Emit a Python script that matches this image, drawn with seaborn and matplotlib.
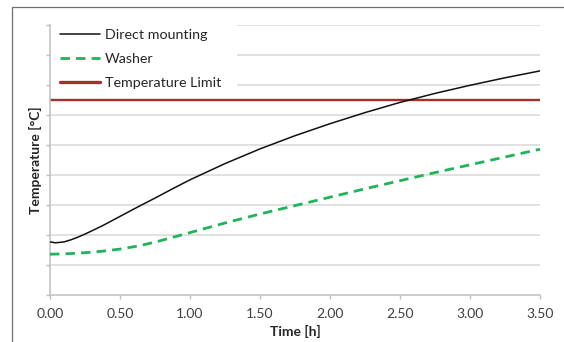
import matplotlib
matplotlib.use("Agg")
import matplotlib.pyplot as plt
import seaborn as sns
import pandas as pd
from matplotlib.patches import Rectangle

# ---- data (temperature in arbitrary grid units; the y axis has no labels) ----
direct_time = [0.0, 0.04, 0.1, 0.15, 0.2, 0.25, 0.375, 0.5, 0.625, 0.75, 0.875, 1.0,
               1.25, 1.5, 1.75, 2.0, 2.25, 2.5, 2.75, 3.0, 3.25, 3.5]
direct_temp = [1.77, 1.74, 1.77, 1.84, 1.93, 2.03, 2.31, 2.62, 2.93, 3.23, 3.54, 3.84,
               4.38, 4.87, 5.31, 5.71, 6.08, 6.42, 6.72, 6.99, 7.24, 7.47]
washer_time = [0.0, 0.125, 0.25, 0.375, 0.5, 0.625, 0.75, 0.875, 1.0, 1.125, 1.25,
               1.5, 1.75, 2.0, 2.25, 2.5, 2.75, 3.0, 3.25, 3.5]
washer_temp = [1.36, 1.375, 1.41, 1.46, 1.53, 1.63, 1.76, 1.92, 2.08, 2.24, 2.40,
               2.70, 2.98, 3.26, 3.54, 3.81, 4.08, 4.34, 4.60, 4.86]
limit_temp = 6.5
x_ticks = [0.0, 0.5, 1.0, 1.5, 2.0, 2.5, 3.0, 3.5]
x_tick_labels = ["0.00", "0.50", "1.00", "1.50", "2.00", "2.50", "3.00", "3.50"]
y_grid = [0, 1, 2, 3, 4, 5, 6, 7, 8, 9]

series_names = ["Direct mounting", "Washer", "Temperature Limit"]

df_direct = pd.DataFrame({"Time": direct_time, "Temp": direct_temp})
df_washer = pd.DataFrame({"Time": washer_time, "Temp": washer_temp})

sns.set_theme(style="white")
plt.rcParams["font.family"] = ["Lato", "DejaVu Sans"]

W, H = 564, 342
fig = plt.figure(figsize=(W / 100, H / 100), dpi=100)
ax = fig.add_axes([50 / W, 1 - 295 / H, 490 / W, 270 / H])

# outer chart frame
fig.patches.append(Rectangle((12 / W, -0.1), 1.2, 1 - 7 / H + 0.1,
                             transform=fig.transFigure, fill=False,
                             edgecolor="#6f6f6f", linewidth=0.9, zorder=0))

grid_col = "#d9d9d9"
for yv in y_grid[1:]:
    ax.axhline(yv, color=grid_col, linewidth=1.1, zorder=0.5)

# white legend area hiding the gridlines behind it
ax.add_patch(Rectangle((51 / W, 1 - 94 / H), (237 - 51) / W, (94 - 14) / H,
                       transform=fig.transFigure, facecolor="white",
                       edgecolor="none", zorder=1, clip_on=False))

sns.lineplot(data=df_direct, x="Time", y="Temp", ax=ax, color="#111111",
             linewidth=1.1, label=series_names[0], zorder=3)
sns.lineplot(data=df_washer, x="Time", y="Temp", ax=ax, color="#1db557",
             linewidth=2.0, label=series_names[1], zorder=3)
ax.lines[-1].set_dashes([3.4, 2.2])
ax.axhline(limit_temp, color="#a3302e", linewidth=1.7, label=series_names[2], zorder=2)

ax.set_xlim(0, 3.5)
ax.set_ylim(0, 9)
ax.set_xticks(x_ticks)
ax.set_xticklabels(x_tick_labels)
ax.set_yticks(y_grid)
ax.set_yticklabels([])

for s in ["top", "right"]:
    ax.spines[s].set_visible(False)
for s in ["left", "bottom"]:
    ax.spines[s].set_color("#bfbfbf")
    ax.spines[s].set_linewidth(1.1)
ax.tick_params(axis="x", direction="out", length=3, width=1, color="#bfbfbf",
               labelsize=10, labelcolor="#404040", pad=6, bottom=True)
ax.tick_params(axis="y", direction="out", length=3, width=1, color="#bfbfbf",
               labelsize=10, left=True)

ax.set_xlabel("Time [h]", fontsize=10, fontweight="bold", color="#262626", labelpad=4)
ax.set_ylabel("Temperature [°C]", fontsize=10, fontweight="bold", color="#262626", labelpad=-1)

leg = ax.legend(loc="upper left", bbox_to_anchor=(60 / W, 1 - 29 / H),
                bbox_transform=fig.transFigure, frameon=False, fontsize=10.3,
                handlelength=2.8, handletextpad=0.35, labelspacing=0.85,
                borderpad=0, borderaxespad=0)
for t in leg.get_texts():
    t.set_color("#262626")
leg.get_lines()[2].set_linewidth(2.4)

fig.savefig("out.png", dpi=100)
